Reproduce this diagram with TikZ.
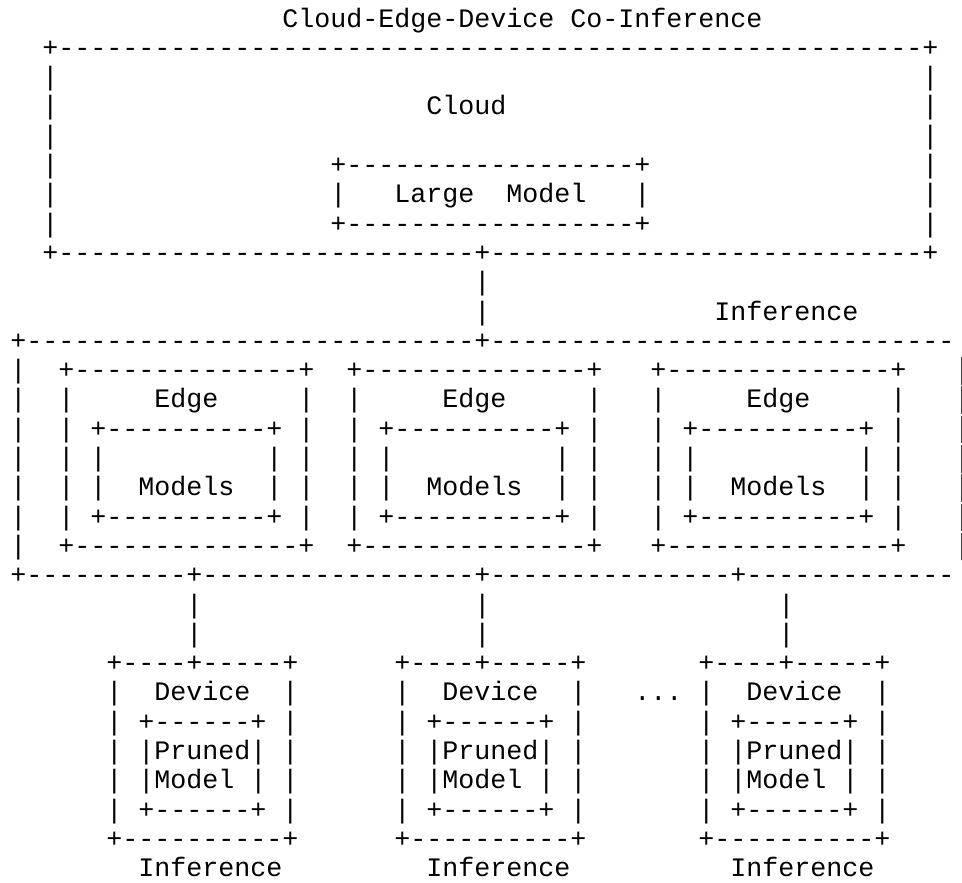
\documentclass[tikz,border=0pt]{standalone}
\usepackage{fontspec}
\setmonofont{Liberation Mono}
% runs of repeated characters for the character-grid drawing
\ExplSyntaxOn
\cs_new:Npn \asciirun #1#2 { \prg_replicate:nn {#1} {#2} }
\ExplSyntaxOff
\newcommand\dsh[1]{\asciirun{#1}{-}}
\newcommand\blk[1]{\asciirun{#1}{~}}
\tikzset{
  asciitext/.style={inner sep=0pt, outer sep=0pt, anchor=base west,
    font=\ttfamily\fontsize{20pt}{22pt}\selectfont, text=black},
  edgebar/.style={draw=black!75, line width=0.9pt}
}
% one line of the grid: #1 = row, #2 = first column, #3 = characters
\newcommand\gridline[3]{\node[asciitext] (line#1) at ({10.3+16*#2},{27+29.3*#1}) {#3};}
\begin{document}
\begin{tikzpicture}[x=0.75pt,y=-0.75pt]
\useasboundingbox (0,0) rectangle (962,882);
\clip (0,0) rectangle (962,882);
% cloud
\gridline{0}{17}{Cloud-Edge-Device~Co-Inference}
\gridline{1}{2}{+\dsh{54}+}
\gridline{2}{2}{|\blk{54}|}
\gridline{3}{2}{|\blk{23}Cloud\blk{26}|}
\gridline{4}{2}{|\blk{54}|}
\gridline{5}{2}{|\blk{17}+\dsh{18}+\blk{17}|}
\gridline{6}{2}{|\blk{17}|\blk{3}Large\blk{2}Model\blk{3}|\blk{17}|}
\gridline{7}{2}{|\blk{17}+\dsh{18}+\blk{17}|}
\gridline{8}{2}{+\dsh{26}+\dsh{27}+}
% link cloud -> edge
\gridline{9}{29}{|}
\gridline{10}{29}{|\blk{14}Inference}
% edge layer (its right side runs on past the page edge)
\gridline{11}{0}{+\dsh{28}+\dsh{29}}
\gridline{12}{0}{|\blk{2}+\dsh{14}+\blk{2}+\dsh{14}+\blk{3}+\dsh{14}+}
\gridline{13}{0}{|\blk{2}|\blk{5}Edge\blk{5}|\blk{2}|\blk{5}Edge\blk{5}|\blk{3}|\blk{5}Edge\blk{5}|}
\gridline{14}{0}{|\blk{2}|\blk{1}+\dsh{10}+\blk{1}|\blk{2}|\blk{1}+\dsh{10}+\blk{1}|\blk{3}|\blk{1}+\dsh{10}+\blk{1}|}
\gridline{15}{0}{|\blk{2}|\blk{1}|\blk{10}|\blk{1}|\blk{2}|\blk{1}|\blk{10}|\blk{1}|\blk{3}|\blk{1}|\blk{10}|\blk{1}|}
\gridline{16}{0}{|\blk{2}|\blk{1}|\blk{2}Models\blk{2}|\blk{1}|\blk{2}|\blk{1}|\blk{2}Models\blk{2}|\blk{1}|\blk{3}|\blk{1}|\blk{2}Models\blk{2}|\blk{1}|}
\gridline{17}{0}{|\blk{2}|\blk{1}+\dsh{10}+\blk{1}|\blk{2}|\blk{1}+\dsh{10}+\blk{1}|\blk{3}|\blk{1}+\dsh{10}+\blk{1}|}
\gridline{18}{0}{|\blk{2}+\dsh{14}+\blk{2}+\dsh{14}+\blk{3}+\dsh{14}+}
\gridline{19}{0}{+\dsh{10}+\dsh{17}+\dsh{15}+\dsh{13}}
% right border of the edge layer, only its left half on the page
\foreach \r in {12,...,18}
  \draw[edgebar] (961.6,{27+29.3*\r+6}) -- (961.6,{27+29.3*\r-21.5});
% links edge -> devices
\gridline{20}{11}{|\blk{17}|\blk{18}|}
\gridline{21}{11}{|\blk{17}|\blk{18}|}
% devices
\gridline{22}{6}{+\dsh{4}+\dsh{5}+\blk{6}+\dsh{4}+\dsh{5}+\blk{7}+\dsh{4}+\dsh{5}+}
\gridline{23}{6}{|\blk{2}Device\blk{2}|\blk{6}|\blk{2}Device\blk{2}|\blk{3}...\blk{1}|\blk{2}Device\blk{2}|}
\gridline{24}{6}{|\blk{1}+\dsh{6}+\blk{1}|\blk{6}|\blk{1}+\dsh{6}+\blk{1}|\blk{7}|\blk{1}+\dsh{6}+\blk{1}|}
\gridline{25}{6}{|\blk{1}|Pruned|\blk{1}|\blk{6}|\blk{1}|Pruned|\blk{1}|\blk{7}|\blk{1}|Pruned|\blk{1}|}
\gridline{26}{6}{|\blk{1}|Model\blk{1}|\blk{1}|\blk{6}|\blk{1}|Model\blk{1}|\blk{1}|\blk{7}|\blk{1}|Model\blk{1}|\blk{1}|}
\gridline{27}{6}{|\blk{1}+\dsh{6}+\blk{1}|\blk{6}|\blk{1}+\dsh{6}+\blk{1}|\blk{7}|\blk{1}+\dsh{6}+\blk{1}|}
\gridline{28}{6}{+\dsh{10}+\blk{6}+\dsh{10}+\blk{7}+\dsh{10}+}
\gridline{29}{8}{Inference\blk{9}Inference\blk{10}Inference}
\end{tikzpicture}
\end{document}
